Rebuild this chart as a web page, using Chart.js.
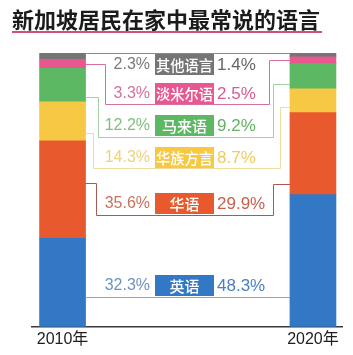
<!DOCTYPE html>
<html>
<head>
<meta charset="utf-8">
<script src="https://cdn.jsdelivr.net/npm/chart.js@4"></script>
<style>
  body { margin: 0; background: #fff; }
  #wrap { position: relative; width: 353px; height: 355px; }
  #title {
    position: absolute; left: 12px; top: 5px; width: 310px;
    font: bold 22px "Noto Sans CJK SC", sans-serif; line-height: 26px;
    color: #1b1b1b; border-bottom: 2px solid #cf4f7f; white-space: nowrap;
  }
  canvas { position: absolute; left: 0; top: 0; }
</style>
</head>
<body>
<div id="wrap">
  <canvas id="grafico" width="353" height="355"></canvas>
  <div id="title">新加坡居民在家中最常说的语言</div>
</div>
<script>
// data, bottom of the stack first
const years = ["2010年", "2020年"];
const languages = ["英语", "华语", "华族方言", "马来语", "淡米尔语", "其他语言"];
const share2010 = [32.3, 35.6, 14.3, 12.2, 3.3, 2.3];
const share2020 = [48.3, 29.9, 8.7, 9.2, 2.5, 1.4];

// styles
const barColors = ["#3278c4", "#e85a2e", "#f7c843", "#5db863", "#e8578f", "#757575"];
const leftTextColors = ["#6f93c0", "#c9735f", "#f0d27c", "#80c07e", "#d8709f", "#7a7a7a"];
const rightTextColors = ["#4a80c0", "#c9604c", "#eecb5e", "#63b262", "#d85a95", "#666666"];
const lineColors = ["#86a8cf", "#a85a50", "#f0dc9c", "#a3cfa2", "#d96ea0", "#8a8a8a"];

// row layout (pixels) and where the connectors meet the bars
const rowTop = [275, 193, 147, 115, 83, 54];
const rowLineY = [null, 215, 168, 137, 104, null];
const elbowLeft = [null, 96, 93, 98, 105, null];
const elbowRight = [null, 273, 280, 273, 269, null];
const anchorLeft = [0.66, 0.43, 0.8, 0.86, 0.52, 0];
const anchorRight = [0.77, 0.87, 0.76, 0.8, 0.5, 0];

const labelPlugin = {
  id: "labels",
  afterDatasetsDraw(chart) {
    const ctx = chart.ctx;
    const y = chart.scales.y;
    let cumL = 0, cumR = 0;
    ctx.save();
    languages.forEach((lang, i) => {
      const meta = chart.getDatasetMeta(i);
      const barL = meta.data[0], barR = meta.data[1];
      const xl = barL.x + barL.width / 2;
      const xr = barR.x - barR.width / 2;
      cumL += share2010[i];
      cumR += share2020[i];
      const yl = Math.round(y.getPixelForValue(cumL - anchorLeft[i] * share2010[i])) + 0.5;
      const yr = Math.round(y.getPixelForValue(cumR - anchorRight[i] * share2020[i])) + 0.5;

      ctx.strokeStyle = lineColors[i];
      ctx.lineWidth = 1;
      ctx.beginPath();
      if (elbowLeft[i] === null) {
        ctx.moveTo(xl, yl);
        ctx.lineTo(xr, yl);
      } else {
        const ly = rowLineY[i] + 0.5;
        ctx.moveTo(xl, yl);
        ctx.lineTo(elbowLeft[i] + 0.5, yl);
        ctx.lineTo(elbowLeft[i] + 0.5, ly);
        ctx.lineTo(elbowRight[i] + 0.5, ly);
        ctx.lineTo(elbowRight[i] + 0.5, yr);
        ctx.lineTo(xr, yr);
      }
      ctx.stroke();

      const top = rowTop[i];
      const mid = top + 11;
      ctx.fillStyle = barColors[i];
      ctx.fillRect(155, top, 59, 21);
      ctx.fillStyle = "#fff";
      ctx.font = '500 15px "Noto Sans CJK SC", sans-serif';
      ctx.textAlign = "center";
      ctx.textBaseline = "middle";
      ctx.fillText(lang, 184.5, mid, 57);

      ctx.font = '16px "Liberation Sans", sans-serif';
      ctx.textAlign = "right";
      ctx.fillStyle = leftTextColors[i];
      ctx.fillText(share2010[i].toFixed(1) + "%", 150, mid);
      ctx.font = '17px "Liberation Sans", sans-serif';
      ctx.textAlign = "left";
      ctx.fillStyle = rightTextColors[i];
      ctx.fillText(share2020[i].toFixed(1) + "%", 217, mid);
    });
    ctx.restore();
  },
};

new Chart(document.getElementById("grafico"), {
  type: "bar",
  plugins: [labelPlugin],
  data: {
    datasets: languages.map((lang, i) => ({
      label: lang,
      backgroundColor: barColors[i],
      borderWidth: 0,
      barThickness: 46,
      data: [
        { x: 0, y: share2010[i] },
        { x: 1, y: share2020[i] },
      ],
    })),
  },
  options: {
    responsive: false,
    animation: false,
    layout: { padding: { top: 53, left: 32, right: 11, bottom: 2 } },
    plugins: {
      legend: { display: false },
      tooltip: { enabled: false },
    },
    scales: {
      x: {
        type: "linear",
        stacked: true,
        offset: false,
        min: -0.122,
        max: 1.116,
        afterBuildTicks: (scale) => {
          scale.ticks = [{ value: 0 }, { value: 1 }];
        },
        ticks: {
          padding: 3.5,
          color: "#1e1e1e",
          font: { size: 16, family: '"Liberation Sans", "Noto Sans CJK SC", sans-serif' },
          callback: (value) => years[value],
        },
        grid: { display: false, drawTicks: false },
        border: { display: true, color: "#3a3a3a", width: 1.5 },
      },
      y: {
        stacked: true,
        display: false,
        min: 0,
        max: 100,
      },
    },
  },
});
</script>
</body>
</html>
